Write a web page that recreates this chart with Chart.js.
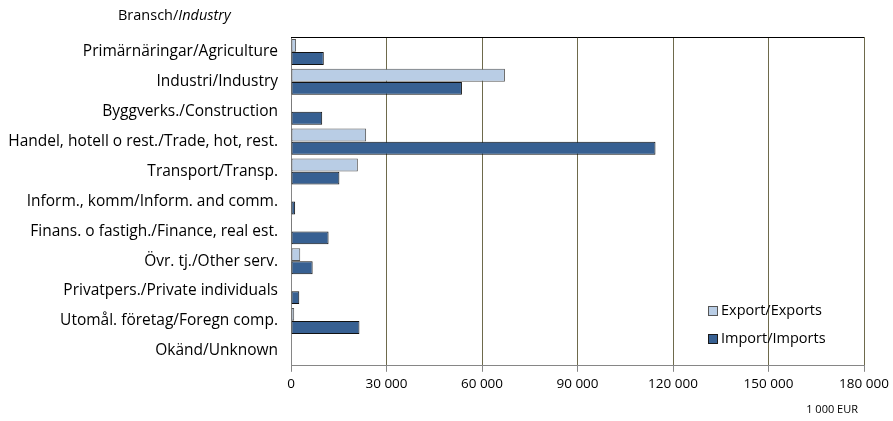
<!DOCTYPE html>
<html>
<head>
<meta charset="utf-8">
<script src="https://cdn.jsdelivr.net/npm/chart.js@4.4.0/dist/chart.umd.min.js"></script>
<style>
  html, body { margin: 0; padding: 0; background: #fff; }
  #wrap { position: relative; width: 893px; height: 421px; }
</style>
</head>
<body>
<div id="wrap"><canvas id="chart" width="893" height="421"></canvas></div>
<script>
const categories = [
  "Primärnäringar/Agriculture",
  "Industri/Industry",
  "Byggverks./Construction",
  "Handel, hotell o rest./Trade, hot, rest.",
  "Transport/Transp.",
  "Inform., komm/Inform. and comm.",
  "Finans. o fastigh./Finance, real est.",
  "Övr. tj./Other serv.",
  "Privatpers./Private individuals",
  "Utomål. företag/Foregn comp.",
  "Okänd/Unknown"
];
const exportValues = [1600, 67200, 300, 23600, 21000, 0, 300, 2900, 0, 1000, 0];
const importValues = [10300, 53700, 9800, 114500, 15200, 1300, 11800, 6800, 2600, 21500, 0];
const xTicks = [0, 30000, 60000, 90000, 120000, 150000, 180000];

const FONT = "'Open Sans', 'Liberation Sans', sans-serif";

function fmt(n) {
  return String(n).replace(/\B(?=(\d{3})+(?!\d))/g, " ");
}

// title, unit, top border and legend drawn on the canvas
const extras = {
  id: "extras",
  afterDraw(chart) {
    const ctx = chart.ctx;
    const a = chart.chartArea;
    ctx.save();
    ctx.strokeStyle = "#000";
    ctx.lineWidth = 1;
    ctx.beginPath();
    ctx.moveTo(a.left, a.top + 0.5);
    ctx.lineTo(a.right, a.top + 0.5);
    ctx.stroke();

    ctx.fillStyle = "#000";
    ctx.textBaseline = "middle";
    ctx.textAlign = "left";
    ctx.font = "14.5px " + FONT;
    ctx.fillText("Bransch/", 118, 16);
    const w1 = ctx.measureText("Bransch/").width;
    ctx.font = "italic 14.5px " + FONT;
    ctx.fillText("Industry", 118 + w1, 16);

    ctx.font = "11px " + FONT;
    ctx.textAlign = "right";
    ctx.fillText("1 000 EUR", 858, 410);

    const items = [
      ["Export/Exports", "#b9cde5", "#555"],
      ["Import/Imports", "#376092", "#1a1a1a"]
    ];
    ctx.textAlign = "left";
    ctx.font = "14.5px " + FONT;
    items.forEach((it, i) => {
      const y = 311 + i * 28;
      ctx.fillStyle = it[1];
      ctx.fillRect(708, y - 4.5, 9, 9);
      ctx.strokeStyle = it[2];
      ctx.strokeRect(708.5, y - 4.5, 9, 9);
      ctx.fillStyle = "#000";
      ctx.fillText(it[0], 721, y);
    });
    ctx.restore();
  }
};

new Chart(document.getElementById("chart"), {
  type: "bar",
  data: {
    labels: categories,
    datasets: [
      {
        label: "Export/Exports",
        data: exportValues,
        backgroundColor: "#b9cde5",
        borderColor: "#555555",
        borderWidth: 1,
        borderSkipped: false,
        categoryPercentage: 0.88,
        barPercentage: 0.98
      },
      {
        label: "Import/Imports",
        data: importValues,
        backgroundColor: "#376092",
        borderColor: "#111111",
        borderWidth: 1,
        borderSkipped: false,
        categoryPercentage: 0.88,
        barPercentage: 0.98
      }
    ]
  },
  options: {
    indexAxis: "y",
    responsive: false,
    animation: false,
    layout: { padding: { top: 37, right: 29, left: 0, bottom: 25 } },
    plugins: {
      legend: { display: false },
      tooltip: { enabled: false }
    },
    scales: {
      x: {
        min: 0,
        max: 180000,
        afterBuildTicks: (s) => { s.ticks = xTicks.map(v => ({ value: v })); },
        grid: {
          color: (c) => c.index === 0 ? "#868686" : "#6e6a4c",
          drawTicks: true,
          tickLength: 6,
          tickColor: "#868686"
        },
        border: { color: "#868686" },
        ticks: {
          color: "#000",
          font: { family: FONT, size: 13.5 },
          padding: 4,
          maxRotation: 0,
          callback: (v) => fmt(v)
        }
      },
      y: {
        afterFit: (s) => { s.width = 291; },
        grid: { display: false, drawTicks: false },
        border: { color: "#868686" },
        ticks: {
          color: "#000",
          font: { family: FONT, size: 15.5 },
          padding: 13,
          autoSkip: false
        }
      }
    }
  },
  plugins: [extras]
});
</script>
</body>
</html>
